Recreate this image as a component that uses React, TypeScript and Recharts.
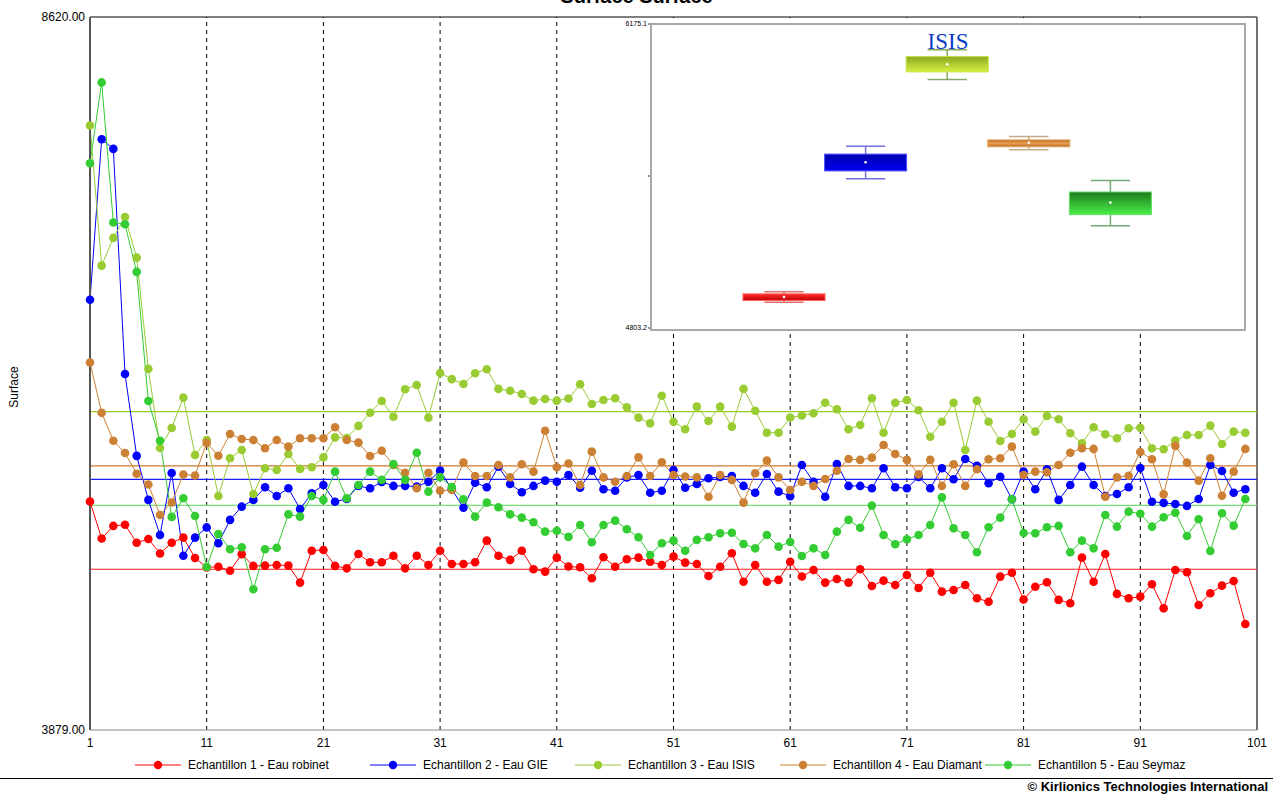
import React from 'react';
import {
  LineChart,
  Line,
  XAxis,
  YAxis,
  ReferenceLine,
  ComposedChart,
  Bar,
} from 'recharts';

// sample index 1..100
const samples = Array.from({ length: 100 }, (_, i) => i + 1);

const robinet = [
  5398, 5152, 5236, 5244, 5124, 5149, 5053, 5124, 5158, 5023,
  4960, 4965, 4938, 5048, 4970, 4972, 4976, 4972, 4859, 5071,
  5076, 4970, 4954, 5049, 4994, 4994, 5038, 4954, 5038, 4976,
  5071, 4983, 4983, 4994, 5138, 5038, 5010, 5071, 4948, 4932,
  5025, 4966, 4961, 4888, 5028, 4965, 5014, 5025, 4998, 4976,
  5032, 4992, 4983, 4903, 4965, 5054, 4865, 4976, 4865, 4877,
  4998, 4900, 4943, 4859, 4883, 4859, 4948, 4837, 4872, 4843,
  4910, 4823, 4925, 4799, 4810, 4843, 4755, 4732, 4899, 4925,
  4747, 4832, 4861, 4744, 4722, 5025, 4865, 5049, 4784, 4755,
  4766, 4848, 4688, 4943, 4928, 4710, 4788, 4839, 4870, 4584,
];

const gie = [
  6740, 7807, 7743, 6246, 5702, 5409, 5176, 5588, 5038, 5158,
  5226, 5121, 5276, 5364, 5409, 5493, 5435, 5486, 5349, 5453,
  5508, 5397, 5415, 5502, 5486, 5528, 5502, 5502, 5497, 5530,
  5605, 5480, 5357, 5524, 5493, 5630, 5515, 5460, 5502, 5537,
  5530, 5575, 5490, 5603, 5480, 5470, 5559, 5575, 5457, 5470,
  5608, 5490, 5515, 5553, 5561, 5568, 5502, 5457, 5581, 5464,
  5433, 5641, 5530, 5430, 5648, 5502, 5502, 5486, 5619, 5493,
  5486, 5561, 5486, 5619, 5546, 5681, 5635, 5520, 5563, 5413,
  5597, 5480, 5613, 5409, 5508, 5630, 5508, 5435, 5448, 5493,
  5621, 5397, 5389, 5382, 5369, 5415, 5641, 5601, 5457, 5480,
];

const isis = [
  7899, 6967, 7151, 7290, 7020, 6280, 5754, 5887, 6089, 5708,
  5807, 5435, 5686, 5741, 5448, 5619, 5608, 5714, 5615, 5626,
  5692, 5825, 5821, 5901, 5989, 6067, 5962, 6145, 6173, 5956,
  6253, 6212, 6180, 6251, 6278, 6147, 6135, 6113, 6069, 6080,
  6069, 6083, 6178, 6047, 6073, 6085, 6025, 5956, 5918, 6102,
  5929, 5879, 6029, 5934, 6029, 5896, 6147, 6002, 5856, 5856,
  5957, 5970, 5985, 6055, 6012, 5879, 5907, 6085, 5856, 6055,
  6073, 6005, 5829, 5929, 6055, 5741, 6069, 5929, 5801, 5847,
  5945, 5863, 5967, 5945, 5852, 5786, 5892, 5845, 5819, 5885,
  5889, 5752, 5746, 5803, 5841, 5841, 5903, 5781, 5863, 5856,
];

const diamant = [
  6323, 5988, 5802, 5721, 5583, 5511, 5309, 5392, 5578, 5571,
  5788, 5703, 5847, 5814, 5807, 5752, 5807, 5763, 5819, 5819,
  5819, 5892, 5807, 5790, 5701, 5736, 5641, 5590, 5486, 5590,
  5470, 5475, 5657, 5568, 5568, 5641, 5559, 5646, 5597, 5869,
  5626, 5651, 5508, 5730, 5559, 5530, 5568, 5692, 5568, 5659,
  5575, 5565, 5559, 5430, 5575, 5542, 5391, 5586, 5670, 5559,
  5475, 5530, 5502, 5548, 5603, 5681, 5675, 5690, 5774, 5714,
  5675, 5579, 5675, 5502, 5646, 5502, 5613, 5679, 5686, 5763,
  5575, 5597, 5593, 5641, 5723, 5752, 5748, 5430, 5559, 5570,
  5728, 5679, 5446, 5768, 5657, 5537, 5686, 5437, 5597, 5748,
];

const seymaz = [
  7648, 8185, 7254, 7242, 6925, 6067, 5802, 5296, 5420, 5302,
  4963, 5182, 5081, 5094, 4815, 5081, 5091, 5313, 5298, 5435,
  5409, 5597, 5420, 5508, 5597, 5542, 5648, 5542, 5723, 5464,
  5561, 5495, 5413, 5298, 5391, 5360, 5313, 5291, 5260, 5198,
  5204, 5163, 5242, 5127, 5242, 5271, 5214, 5161, 5043, 5121,
  5138, 5071, 5143, 5161, 5187, 5191, 5116, 5087, 5176, 5098,
  5129, 5036, 5087, 5043, 5198, 5276, 5224, 5371, 5176, 5114,
  5147, 5176, 5242, 5426, 5220, 5176, 5061, 5227, 5291, 5413,
  5189, 5187, 5227, 5236, 5061, 5138, 5087, 5309, 5231, 5331,
  5317, 5231, 5294, 5324, 5169, 5280, 5069, 5320, 5238, 5415,
];

const seriesKeys = ['robinet', 'gie', 'isis', 'diamant', 'seymaz'];
const seriesNames = [
  'Echantillon 1 - Eau robinet',
  'Echantillon 2 - Eau GIE',
  'Echantillon 3 - Eau ISIS',
  'Echantillon 4 - Eau Diamant',
  'Echantillon 5 - Eau Seymaz',
];
const seriesColors = ['#ff0000', '#0000ff', '#99cc33', '#cc8033', '#33cc33'];
const meanColors = ['#ff1a1a', '#1a1aff', '#99cc22', '#d07a2a', '#77dd77'];
// mean level of each sample
const means = [4948, 5546, 5996, 5635, 5372];

const xTicks = [1, 11, 21, 31, 41, 51, 61, 71, 81, 91, 101];
const gridX = [11, 21, 31, 41, 51, 61, 71, 81, 91];
const yTicks = [3879, 8620];

// inset box plot (whisker low, box low, median, box high, whisker high)
const boxLow = [4919, 5477, 5925, 5608, 5265];
const boxQ1 = [4928, 5512, 5959, 5621, 5315];
const boxMedian = [4943, 5551, 5993, 5639, 5369];
const boxQ3 = [4957, 5588, 6028, 5652, 5417];
const boxHigh = [4967, 5623, 6059, 5667, 5469];
const insetTicks = [4803.2, 5489.15, 6175.1];

const boxFills = ['url(#bxRed)', 'url(#bxBlue)', 'url(#bxIsis)', 'url(#bxOrange)', 'url(#bxGreen)'];
const boxEdges = ['#ff5050', '#5050ff', '#c8e040', '#e0a060', '#60e060'];
const whiskerColors = ['#e07070', '#7070e0', '#88aa66', '#c8aa88', '#70aa70'];

const legendLeft = [135, 370, 575, 780, 985];

const rows = samples.map((x, i) => ({
  x,
  robinet: robinet[i],
  gie: gie[i],
  isis: isis[i],
  diamant: diamant[i],
  seymaz: seymaz[i],
}));

const boxRows = seriesNames.map((name, i) => ({
  name,
  min: boxLow[i],
  q1: boxQ1[i],
  median: boxMedian[i],
  q3: boxQ3[i],
  max: boxHigh[i],
}));

const FONT = '"Liberation Sans", Arial, sans-serif';

function BoxShape(props: any) {
  const { x, y, width, height, payload, index } = props;
  const top = Math.min(y, y + height);
  const h = Math.abs(height);
  const { min, q1, median, q3, max } = payload;
  const toY = (v: number) => top + ((max - v) / (max - min)) * h;
  const cx = x + width / 2;
  const capW = width * 0.48;
  const wc = whiskerColors[index];
  return (
    <g>
      <line x1={cx} x2={cx} y1={toY(max)} y2={toY(q3)} stroke={wc} strokeWidth={1.5} />
      <line x1={cx} x2={cx} y1={toY(q1)} y2={toY(min)} stroke={wc} strokeWidth={1.5} />
      <line x1={cx - capW / 2} x2={cx + capW / 2} y1={toY(max)} y2={toY(max)} stroke={wc} strokeWidth={1.5} />
      <line x1={cx - capW / 2} x2={cx + capW / 2} y1={toY(min)} y2={toY(min)} stroke={wc} strokeWidth={1.5} />
      <rect
        x={x}
        y={toY(q3)}
        width={width}
        height={toY(q1) - toY(q3)}
        fill={boxFills[index]}
        stroke={boxEdges[index]}
        strokeWidth={1}
      />
      <circle cx={cx} cy={toY(median)} r={1.3} fill="#ffffff" />
    </g>
  );
}

function Inset() {
  return (
    <div
      style={{
        position: 'absolute',
        left: 620,
        top: 19,
        width: 630,
        height: 315,
        background: '#fff',
      }}
    >
      <ComposedChart
        width={630}
        height={315}
        data={boxRows}
        barCategoryGap={0}
        margin={{ top: 5, right: 7, bottom: 6, left: 0 }}
      >
        <defs>
          <linearGradient id="bxRed" x1="0" y1="0" x2="0" y2="1">
            <stop offset="0%" stopColor="#ff3030" />
            <stop offset="100%" stopColor="#c00000" />
          </linearGradient>
          <linearGradient id="bxBlue" x1="0" y1="0" x2="0" y2="1">
            <stop offset="0%" stopColor="#0000b0" />
            <stop offset="100%" stopColor="#0000f0" />
          </linearGradient>
          <linearGradient id="bxIsis" x1="0" y1="0" x2="0" y2="1">
            <stop offset="0%" stopColor="#8aaa22" />
            <stop offset="100%" stopColor="#d4f040" />
          </linearGradient>
          <linearGradient id="bxOrange" x1="0" y1="0" x2="0" y2="1">
            <stop offset="0%" stopColor="#b86a22" />
            <stop offset="50%" stopColor="#e8a050" />
            <stop offset="100%" stopColor="#b86a22" />
          </linearGradient>
          <linearGradient id="bxGreen" x1="0" y1="0" x2="0" y2="1">
            <stop offset="0%" stopColor="#1e7a1e" />
            <stop offset="100%" stopColor="#48f048" />
          </linearGradient>
        </defs>
        <XAxis dataKey="name" hide padding={{ left: 92, right: 92 }} />
        <YAxis
          domain={[4803.2, 6175.1]}
          ticks={insetTicks}
          width={31}
          axisLine={false}
          tickSize={3}
          tickMargin={1}
          tickLine={{ stroke: '#333' }}
          tickFormatter={(v: number) => (v === 5489.15 ? '' : v.toFixed(1))}
          tick={{ fontSize: 7, fill: '#000', fontFamily: FONT }}
        />
        <Bar
          dataKey={(d: any) => [d.min, d.max]}
          shape={BoxShape}
          isAnimationActive={false}
        />
      </ComposedChart>
      <div
        style={{
          position: 'absolute',
          left: 30,
          top: 4,
          width: 592,
          height: 304,
          border: '2px solid #a8a8a8',
          pointerEvents: 'none',
        }}
      />
      <div
        style={{
          position: 'absolute',
          left: 278,
          top: 10,
          width: 100,
          textAlign: 'center',
          fontFamily: '"Liberation Serif", "Times New Roman", serif',
          fontSize: 23,
          lineHeight: '26px',
          color: '#0a3cc8',
        }}
      >
        ISIS
      </div>
    </div>
  );
}

export default function App() {
  return (
    <div
      style={{
        position: 'absolute',
        left: 0,
        top: 0,
        width: 1273,
        height: 794,
        background: '#fff',
        fontFamily: FONT,
        overflow: 'hidden',
      }}
    >
      <div
        style={{
          position: 'absolute',
          top: -16,
          left: 0,
          width: 1273,
          textAlign: 'center',
          fontSize: 20,
          fontWeight: 'bold',
          lineHeight: '24px',
        }}
      >
        Surface Surface
      </div>

      <LineChart
        width={1273}
        height={794}
        data={rows}
        margin={{ top: 17, right: 16, bottom: 34, left: 0 }}
      >
        <XAxis
          dataKey="x"
          type="number"
          domain={[1, 101]}
          ticks={xTicks}
          tickLine={false}
          axisLine={{ stroke: '#888' }}
          tick={{ fontSize: 12, fill: '#000', fontFamily: FONT }}
          height={30}
        />
        <YAxis
          type="number"
          domain={[3879, 8620]}
          ticks={yTicks}
          width={90}
          tickSize={4}
          tickMargin={1}
          tickLine={false}
          axisLine={{ stroke: '#555', strokeWidth: 2 }}
          tickFormatter={(v: number) => v.toFixed(2)}
          tick={{ fontSize: 12, fill: '#000', fontFamily: FONT }}
        />
        {gridX.map((gx) => (
          <ReferenceLine key={gx} x={gx} stroke="#000" strokeDasharray="4 4" />
        ))}
        <ReferenceLine y={8620} stroke="#000" />
        <ReferenceLine x={101} stroke="#444" strokeWidth={1.5} />
        {means.map((m, i) => (
          <ReferenceLine key={'m' + i} y={m} stroke={meanColors[i]} strokeWidth={1.2} />
        ))}
        {seriesKeys.map((k, i) => (
          <Line
            key={k}
            type="linear"
            dataKey={k}
            name={seriesNames[i]}
            stroke={seriesColors[i]}
            strokeWidth={1}
            dot={{ r: 4.3, fill: seriesColors[i], stroke: 'none' }}
            isAnimationActive={false}
          />
        ))}
      </LineChart>

      <Inset />

      <div
        style={{
          position: 'absolute',
          left: 14,
          top: 387,
          transform: 'translate(-50%, -50%) rotate(-90deg)',
          fontSize: 12,
        }}
      >
        Surface
      </div>

      {seriesNames.map((name, i) => (
        <div
          key={name}
          style={{
            position: 'absolute',
            left: legendLeft[i],
            top: 757,
            height: 16,
            display: 'flex',
            alignItems: 'center',
            fontSize: 12,
            whiteSpace: 'nowrap',
          }}
        >
          <svg width={46} height={16} style={{ marginRight: 7 }}>
            <line x1={0} x2={46} y1={8} y2={8} stroke={seriesColors[i]} strokeWidth={1} />
            <circle cx={23} cy={8} r={4.2} fill={seriesColors[i]} />
          </svg>
          {name}
        </div>
      ))}

      <div
        style={{
          position: 'absolute',
          left: 0,
          top: 778,
          width: 1273,
          height: 1,
          background: '#000',
        }}
      />
      <div
        style={{
          position: 'absolute',
          right: 5,
          top: 780,
          fontSize: 13,
          lineHeight: '14px',
          fontWeight: 'bold',
          whiteSpace: 'nowrap',
        }}
      >
        © Kirlionics Technologies International
      </div>
    </div>
  );
}
